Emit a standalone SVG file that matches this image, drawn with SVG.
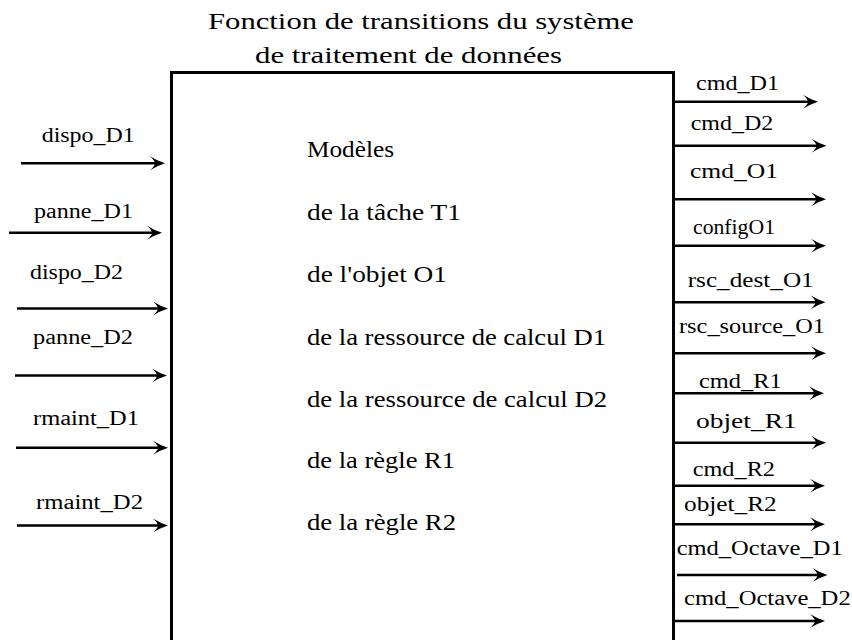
<svg xmlns="http://www.w3.org/2000/svg" width="852" height="640" viewBox="0 0 852 640">
<style>
.arr { stroke: #000; stroke-width: 2.6; fill: none; marker-end: url(#ah); }
.box { stroke: #000; stroke-width: 3; fill: none; }
</style>
<defs>
<marker id="ah" markerUnits="userSpaceOnUse" markerWidth="30" markerHeight="30" refX="0" refY="0" viewBox="-20 -10 30 20" orient="auto" overflow="visible">
<path d="M8,0 Q0,-2.5 -7,-7 Q-2,-2.5 -2,0 Q-2,2.5 -7,7 Q0,2.5 8,0 Z" fill="#000"/>
</marker>
</defs>
<rect width="852" height="640" fill="#fff"/>
<g id="title" font-family="'Liberation Serif', 'Times New Roman', serif" font-size="23.5" fill="#000">
<text x="208" y="29" textLength="426" lengthAdjust="spacingAndGlyphs">Fonction de transitions du système</text>
<text x="255" y="63" textLength="307" lengthAdjust="spacingAndGlyphs">de traitement de données</text>
</g>
<g id="box" font-family="'Liberation Serif', 'Times New Roman', serif" font-size="24" fill="#000">
<path class="box" d="M171.5,645 V72.5 H673.5 V645"/>
<text x="307" y="157" textLength="87" lengthAdjust="spacingAndGlyphs">Modèles</text>
<text x="307" y="220" textLength="154" lengthAdjust="spacingAndGlyphs">de la tâche T1</text>
<text x="307" y="282" textLength="140" lengthAdjust="spacingAndGlyphs">de l'objet O1</text>
<text x="307" y="345" textLength="299" lengthAdjust="spacingAndGlyphs">de la ressource de calcul D1</text>
<text x="307" y="407" textLength="300" lengthAdjust="spacingAndGlyphs">de la ressource de calcul D2</text>
<text x="307" y="468" textLength="148" lengthAdjust="spacingAndGlyphs">de la règle R1</text>
<text x="307" y="530" textLength="149" lengthAdjust="spacingAndGlyphs">de la règle R2</text>
</g>
<g id="inputs" font-family="'Liberation Serif', 'Times New Roman', serif" font-size="20" fill="#000">
<text x="41.7" y="141.7" textLength="93" lengthAdjust="spacingAndGlyphs">dispo_D1</text>
<text x="34" y="218" textLength="99" lengthAdjust="spacingAndGlyphs">panne_D1</text>
<text x="30" y="279" textLength="93" lengthAdjust="spacingAndGlyphs">dispo_D2</text>
<text x="33" y="344" textLength="100" lengthAdjust="spacingAndGlyphs">panne_D2</text>
<text x="33" y="425" textLength="106" lengthAdjust="spacingAndGlyphs">rmaint_D1</text>
<text x="36" y="509" textLength="107" lengthAdjust="spacingAndGlyphs">rmaint_D2</text>
</g>
<g id="outputs" font-family="'Liberation Serif', 'Times New Roman', serif" font-size="20" fill="#000">
<text x="696" y="90" textLength="83" lengthAdjust="spacingAndGlyphs">cmd_D1</text>
<text x="690.7" y="130" textLength="82.5" lengthAdjust="spacingAndGlyphs">cmd_D2</text>
<text x="690" y="178" textLength="88" lengthAdjust="spacingAndGlyphs">cmd_O1</text>
<text x="693" y="234" textLength="82" lengthAdjust="spacingAndGlyphs">configO1</text>
<text x="687.7" y="286.7" textLength="126" lengthAdjust="spacingAndGlyphs">rsc_dest_O1</text>
<text x="679" y="332.7" textLength="146" lengthAdjust="spacingAndGlyphs">rsc_source_O1</text>
<text x="699" y="387.7" textLength="82.7" lengthAdjust="spacingAndGlyphs">cmd_R1</text>
<text x="696" y="428" textLength="100.7" lengthAdjust="spacingAndGlyphs">objet_R1</text>
<text x="692.7" y="476" textLength="82.3" lengthAdjust="spacingAndGlyphs">cmd_R2</text>
<text x="684" y="511" textLength="92.7" lengthAdjust="spacingAndGlyphs">objet_R2</text>
<text x="676.7" y="555" textLength="166" lengthAdjust="spacingAndGlyphs">cmd_Octave_D1</text>
<text x="684" y="605" textLength="166.7" lengthAdjust="spacingAndGlyphs">cmd_Octave_D2</text>
</g>
<g id="connectors">
<line class="arr" x1="21" y1="163.3" x2="157" y2="163.3"/>
<line class="arr" x1="9" y1="232.7" x2="154" y2="232.7"/>
<line class="arr" x1="17" y1="308.5" x2="160" y2="308.5"/>
<line class="arr" x1="15" y1="375.5" x2="159" y2="375.5"/>
<line class="arr" x1="16" y1="447.7" x2="160" y2="447.7"/>
<line class="arr" x1="17" y1="525.5" x2="160" y2="525.5"/>
<line class="arr" x1="673" y1="101.7" x2="810" y2="101.7"/>
<line class="arr" x1="673" y1="145.7" x2="818.5" y2="145.7"/>
<line class="arr" x1="673" y1="199.3" x2="818" y2="199.3"/>
<line class="arr" x1="673" y1="245.7" x2="818" y2="245.7"/>
<line class="arr" x1="673" y1="302.3" x2="817.5" y2="302.3"/>
<line class="arr" x1="673" y1="353.3" x2="818" y2="353.3"/>
<line class="arr" x1="673" y1="393.3" x2="816" y2="393.3"/>
<line class="arr" x1="673" y1="442.7" x2="818" y2="442.7"/>
<line class="arr" x1="673" y1="485.7" x2="817" y2="485.7"/>
<line class="arr" x1="673" y1="524.3" x2="817" y2="524.3"/>
<line class="arr" x1="677" y1="575" x2="819.5" y2="575"/>
<line class="arr" x1="673" y1="621" x2="817" y2="621"/>
</g>
</svg>
